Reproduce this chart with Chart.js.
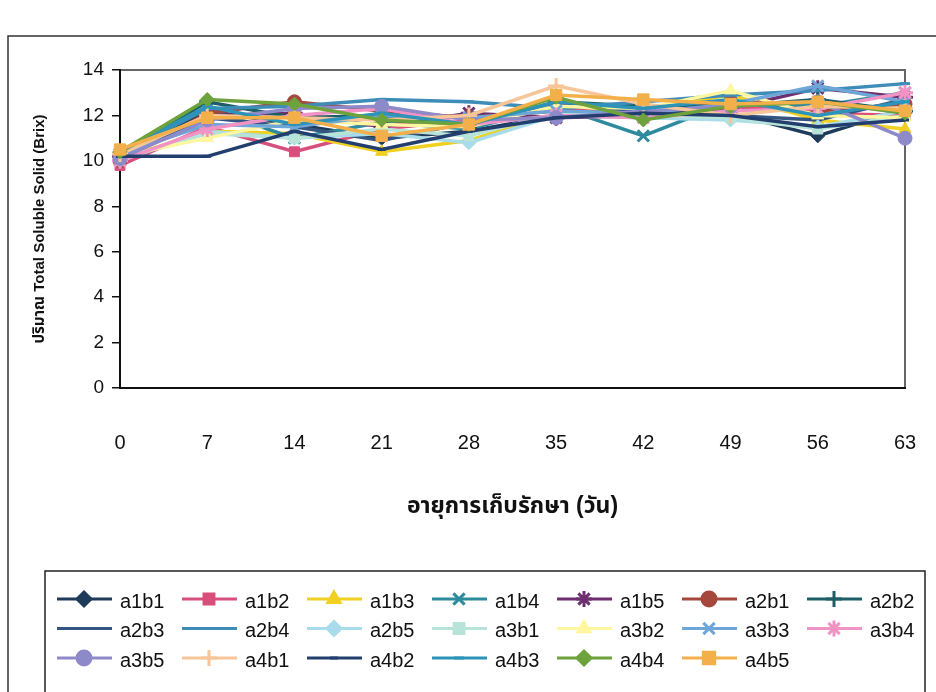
<!DOCTYPE html>
<html>
<head>
<meta charset="utf-8">
<script src="https://cdn.jsdelivr.net/npm/chart.js@4"></script>
<style>
  body { margin: 0; background: #fff; }
  #wrap { width: 936px; height: 692px; }
</style>
</head>
<body>
<div id="wrap"><canvas id="grafico" width="936" height="692"></canvas></div>
<script>
// dias de armazenamento
const dias = ['0', '7', '14', '21', '28', '35', '42', '49', '56', '63'];
const yTicks = [0, 2, 4, 6, 8, 10, 12, 14];

// valores (Brix)
const a1b1 = [10.2, 12.2, 11.6, 11.0, 11.3, 12.0, 12.2, 12.1, 11.1, 12.3];
const a1b2 = [9.8, 11.5, 10.4, 11.4, 11.8, 12.3, 12.0, 12.4, 12.1, 12.0];
const a1b3 = [10.1, 11.3, 11.2, 10.4, 10.9, 12.1, 12.3, 12.9, 11.8, 11.4];
const a1b4 = [10.3, 12.3, 11.0, 11.7, 11.4, 12.4, 11.1, 12.6, 12.4, 13.0];
const a1b5 = [10.2, 12.0, 12.1, 11.5, 12.1, 11.9, 12.0, 12.3, 13.2, 12.8];
const a2b1 = [10.0, 12.1, 12.6, 12.2, 11.9, 12.2, 12.1, 12.6, 12.2, 12.5];
const a2b2 = [10.3, 12.6, 11.9, 12.0, 11.5, 12.6, 12.4, 12.4, 12.7, 12.2];
const a2b3 = [10.1, 11.9, 11.5, 10.9, 11.7, 12.5, 12.2, 12.0, 11.8, 12.7];
const a2b4 = [10.4, 12.3, 12.4, 12.7, 12.6, 12.3, 12.6, 12.9, 13.1, 13.4];
const a2b5 = [10.0, 11.3, 11.0, 11.2, 10.8, 12.0, 11.9, 11.8, 11.5, 12.2];
const a3b1 = [10.1, 11.2, 11.0, 11.4, 11.1, 12.1, 12.0, 11.9, 11.4, 12.0];
const a3b2 = [10.2, 11.0, 11.8, 11.6, 11.5, 12.4, 12.3, 13.1, 12.0, 11.9];
const a3b3 = [10.3, 11.6, 11.5, 12.0, 11.9, 12.2, 12.1, 12.5, 13.3, 12.6];
const a3b4 = [10.0, 11.4, 12.0, 12.3, 11.6, 12.0, 11.9, 12.2, 12.3, 13.0];
const a3b5 = [10.1, 11.8, 12.3, 12.4, 11.8, 11.9, 12.2, 12.4, 12.6, 11.0];
const a4b1 = [10.3, 12.0, 11.9, 11.8, 12.0, 13.3, 12.5, 12.0, 12.4, 12.3];
const a4b2 = [10.2, 10.2, 11.3, 10.5, 11.3, 11.9, 12.1, 12.0, 11.5, 11.8];
const a4b3 = [10.4, 12.4, 11.6, 12.1, 11.6, 12.6, 12.3, 12.7, 12.0, 12.6];
const a4b4 = [10.4, 12.7, 12.5, 11.8, 11.6, 12.8, 11.8, 12.4, 12.6, 12.1];
const a4b5 = [10.5, 11.9, 11.9, 11.1, 11.6, 12.9, 12.7, 12.5, 12.6, 12.2];

const series = [
    { nome: 'a1b1', dados: a1b1, cor: '#1e3b5a', estilo: 'rectRot', r: 7 },
    { nome: 'a1b2', dados: a1b2, cor: '#d94f7c', estilo: 'rect', r: 7 },
    { nome: 'a1b3', dados: a1b3, cor: '#f0d020', estilo: 'triangle', r: 7 },
    { nome: 'a1b4', dados: a1b4, cor: '#2e8b9e', estilo: 'crossRot', r: 8 },
    { nome: 'a1b5', dados: a1b5, cor: '#6e2f6e', estilo: 'star', r: 8 },
    { nome: 'a2b1', dados: a2b1, cor: '#a5473d', estilo: 'circle', r: 7 },
    { nome: 'a2b2', dados: a2b2, cor: '#1e5e66', estilo: 'cross', r: 8 },
    { nome: 'a2b3', dados: a2b3, cor: '#34557f', estilo: 'line', r: 4 },
    { nome: 'a2b4', dados: a2b4, cor: '#3e8db8', estilo: 'line', r: 5 },
    { nome: 'a2b5', dados: a2b5, cor: '#a8dceb', estilo: 'rectRot', r: 7 },
    { nome: 'a3b1', dados: a3b1, cor: '#b8e3d8', estilo: 'rect', r: 7 },
    { nome: 'a3b2', dados: a3b2, cor: '#fff6a0', estilo: 'triangle', r: 7 },
    { nome: 'a3b3', dados: a3b3, cor: '#6fa6d8', estilo: 'crossRot', r: 8 },
    { nome: 'a3b4', dados: a3b4, cor: '#f293c6', estilo: 'star', r: 8 },
    { nome: 'a3b5', dados: a3b5, cor: '#8e89c8', estilo: 'circle', r: 7 },
    { nome: 'a4b1', dados: a4b1, cor: '#f7c597', estilo: 'cross', r: 8 },
    { nome: 'a4b2', dados: a4b2, cor: '#223e6e', estilo: 'line', r: 4 },
    { nome: 'a4b3', dados: a4b3, cor: '#2d93b8', estilo: 'line', r: 5 },
    { nome: 'a4b4', dados: a4b4, cor: '#6ea23c', estilo: 'rectRot', r: 7 },
    { nome: 'a4b5', dados: a4b5, cor: '#f3b04a', estilo: 'rect', r: 8 }
];

const fonte = '"Liberation Sans", Arial, "Noto Sans Thai", "DejaVu Sans", sans-serif';

const datasets = series.map((s, i) => ({
    label: s.nome,
    data: s.dados,
    borderColor: s.cor,
    backgroundColor: s.cor,
    borderWidth: 3.5,
    pointStyle: s.estilo,
    pointRadius: s.r,
    pointBorderWidth: (s.estilo === 'line' || s.estilo === 'cross' || s.estilo === 'crossRot' || s.estilo === 'star') ? 3 : 1,
    tension: 0,
    order: series.length - 1 - i  // ultima serie por cima, como no Excel
}));

// molduras e legenda desenhadas a mao
const molduraPlugin = {
    id: 'moldura',
    beforeDraw(chart) {
        const ctx = chart.ctx;
        ctx.save();
        ctx.fillStyle = '#fff';
        ctx.fillRect(0, 0, chart.width, chart.height);
        ctx.strokeStyle = '#333';
        ctx.lineWidth = 1.5;
        ctx.strokeRect(8, 36, 940, 700);
        const a = chart.chartArea;
        ctx.strokeStyle = '#666';
        ctx.lineWidth = 2;
        ctx.beginPath();
        ctx.moveTo(a.left, a.top);
        ctx.lineTo(a.right, a.top);
        ctx.lineTo(a.right, a.bottom);
        ctx.stroke();
        ctx.restore();
    },
    afterDraw(chart) {
        const ctx = chart.ctx;
        ctx.save();
        ctx.strokeStyle = '#222';
        ctx.lineWidth = 1.5;
        ctx.strokeRect(45, 571, 880, 140);
        ctx.font = '20px ' + fonte;
        ctx.textBaseline = 'middle';
        ctx.fillStyle = '#111';
        chart.data.datasets.forEach((ds, i) => {
            const col = i % 7;
            const lin = Math.floor(i / 7);
            const x = 57 + col * 125;
            const y = 599 + lin * 29.5;
            ctx.strokeStyle = ds.borderColor;
            ctx.lineWidth = 3;
            ctx.beginPath();
            ctx.moveTo(x, y);
            ctx.lineTo(x + 55, y);
            ctx.stroke();
            Chart.helpers.drawPoint(ctx, {
                pointStyle: ds.pointStyle,
                radius: ds.pointRadius,
                borderWidth: ds.pointBorderWidth,
                rotation: 0
            }, x + 27, y);
            ctx.fillStyle = ds.borderColor;
            ctx.fill();
            ctx.fillStyle = '#111';
            ctx.fillText(ds.label, x + 63, y + 3);
        });
        ctx.restore();
    }
};

new Chart(document.getElementById('grafico'), {
    type: 'line',
    data: { labels: dias, datasets: datasets },
    options: {
        responsive: false,
        animation: false,
        layout: { padding: { top: 70, right: 31, left: 0, bottom: 0 } },
        plugins: {
            legend: { display: false },
            tooltip: { enabled: false }
        },
        scales: {
            x: {
                offset: false,
                grid: { display: false, drawTicks: false },
                border: { display: true, color: '#111', width: 2 },
                ticks: { color: '#111', font: { family: fonte, size: 20 }, padding: 43, maxRotation: 0 },
                title: {
                    display: true,
                    text: 'อายุการเก็บรักษา (วัน)',
                    color: '#111',
                    font: { family: fonte, size: 23, weight: 'bold' },
                    padding: { top: 0, bottom: 172 }
                },
                afterFit: function (scale) {
                    scale.height = 304;
                    scale.paddingRight = 0;
                    scale.paddingLeft = 0;
                }
            },
            y: {
                min: 0,
                max: 14,
                afterBuildTicks: function (scale) { scale.ticks = yTicks.map(v => ({ value: v })); },
                grid: { drawOnChartArea: false, drawTicks: true, tickLength: 8, color: '#111', lineWidth: 1.5 },
                border: { display: true, color: '#111', width: 2 },
                ticks: { color: '#111', font: { family: fonte, size: 19 }, padding: 8 },
                title: {
                    display: true,
                    text: 'ปริมาณ Total Soluble Solid (Brix)',
                    color: '#111',
                    font: { family: fonte, size: 15, weight: 'bold' },
                    padding: { top: 31, bottom: 0 }
                },
                afterFit: function (scale) { scale.width = 120; }
            }
        }
    },
    plugins: [molduraPlugin]
});
</script>
</body>
</html>
